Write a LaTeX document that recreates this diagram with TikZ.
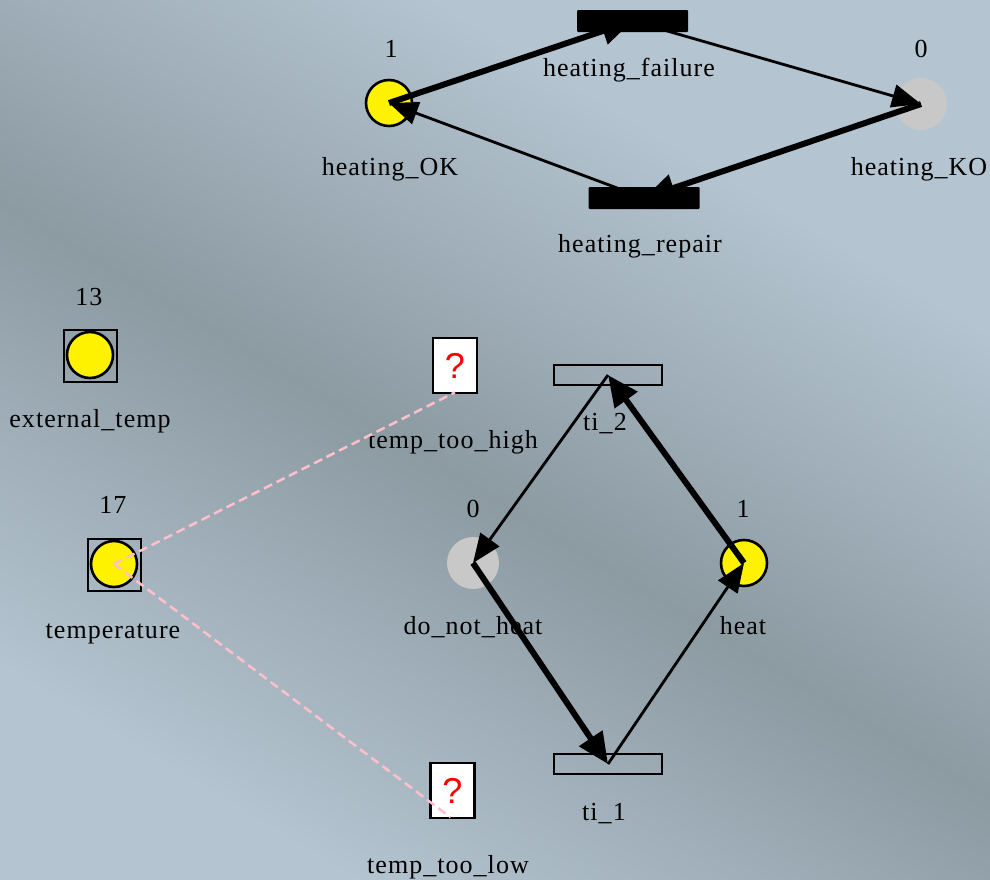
\documentclass[tikz,border=0pt]{standalone}
\usepackage{fontspec}
\setmainfont{Liberation Serif}[LetterSpace=4]
\newfontfamily\qfont{Liberation Sans}
\usetikzlibrary{arrows.meta,calc}
\definecolor{bgc}{RGB}{180,196,208}
\definecolor{bandc}{RGB}{140,154,162}
\definecolor{placegray}{RGB}{200,200,200}
\definecolor{linkpink}{RGB}{255,192,203}
\pgfdeclareverticalshading{bandshade}{100bp}{color(0bp)=(bgc); color(34bp)=(bgc); color(50bp)=(bandc); color(66bp)=(bgc); color(100bp)=(bgc)}
\begin{document}
\begin{tikzpicture}[x=1pt,y=-1pt,
  lbl/.style={font=\fontsize{26}{28}\selectfont, inner sep=0pt, anchor=base},
  tokplace/.style={circle, fill=yellow, draw=black, line width=2.6pt, minimum size=46pt, inner sep=0pt},
  emptyplace/.style={circle, fill=placegray, minimum size=52pt, inner sep=0pt},
  btrans/.style={rectangle, fill=black, rounded corners=1pt, minimum width=111pt, minimum height=22pt, inner sep=0pt},
  wtrans/.style={rectangle, draw=black, line width=2.6pt, minimum width=108pt, minimum height=20pt, inner sep=0pt},
  varbox/.style={rectangle, draw=black, line width=2.6pt, minimum width=53pt, minimum height=52pt, inner sep=0pt},
  qbox/.style={rectangle, draw=black, fill=white, line width=2.6pt, minimum width=44pt, minimum height=55pt, inner sep=0pt,
    text=red, font=\qfont\fontsize{36}{36}\selectfont},
  thinarc/.style={draw=black, line width=2.8pt, -{Triangle[length=29pt,width=23pt]}},
  thickarc/.style={draw=black, line width=6pt, -{Triangle[length=31pt,width=27pt]}},
  readarc/.style={draw=linkpink, line width=2.5pt, dash pattern=on 9pt off 5pt}]
\useasboundingbox (0,0) rectangle (990,879);
\fill[bgc] (0,0) rectangle (990,879);
\begin{scope}
\clip (0,0) rectangle (990,879);
\shade[shading=bandshade, shading angle=-31]
  (-100,-140) rectangle (1090,1140);
\end{scope}

% places
\node[tokplace] (hok) at (389,103) {};
\node[emptyplace] (hko) at (921,104) {};
\node[emptyplace] (dnh) at (473,563) {};
\node[tokplace] (heat) at (744,563) {};
\node[varbox] (extbox) at (90.5,356) {};
\node[tokplace] (ext) at (90,355) {};
\node[varbox] (tempbox) at (114.5,565) {};
\node[tokplace] (temp) at (114,564) {};

% transitions
\node[btrans] (hfail) at (632.5,21) {};
\node[btrans] (hrep) at (644,198) {};
\node[wtrans] (ti2) at (608,375) {};
\node[wtrans] (ti1) at (608,764) {};
\node[qbox] (tth) at (455,365.5) {?};
\node[qbox] (ttl) at (452.5,790.5) {?};

% labels
\node[lbl] (lhok1) at (391,57) {1};
\node[lbl] (lhok) at (390,175) {heating\_OK};
\node[lbl] (lhfail) at (629,76) {heating\_failure};
\node[lbl] (lhko0) at (921,57) {0};
\node[lbl] (lhko) at (919,175) {heating\_KO};
\node[lbl] (lhrep) at (640,252) {heating\_repair};
\node[lbl] (lext13) at (89,305) {13};
\node[lbl] (lext) at (90,427) {external\_temp};
\node[lbl] (ltemp17) at (113,513) {17};
\node[lbl] (ltemp) at (113,638) {temperature};
\node[lbl] (ltth) at (453,448) {temp\_too\_high};
\node[lbl] (lti2) at (605,430) {ti\_2};
\node[lbl] (ldnh0) at (473,517) {0};
\node[lbl] (ldnh) at (473,634) {do\_not\_heat};
\node[lbl] (lheat1) at (743,517) {1};
\node[lbl] (lheat) at (743,634) {heat};
\node[lbl] (lti1) at (604,820) {ti\_1};
\node[lbl] (lttl) at (448,873) {temp\_too\_low};

% arcs
\draw[thickarc] (hok.center) -- (hfail.center);
\draw[thinarc] (hfail.center) -- (hko.center);
\draw[thickarc] (hko.center) -- (hrep.center);
\draw[thinarc] (hrep.center) -- (hok.center);
\draw[thinarc] (ti2.center) -- (dnh.center);
\draw[thickarc] (dnh.center) -- (ti1.center);
\draw[thinarc] (ti1.center) -- (heat.center);
\draw[thickarc] (heat.center) -- (ti2.center);

% read links
\draw[readarc] (temp.center) -- ($(tth.south)+(0,-2)$);
\draw[readarc] (temp.center) -- ($(ttl.south)+(-2,-2)$);
\end{tikzpicture}
\end{document}
